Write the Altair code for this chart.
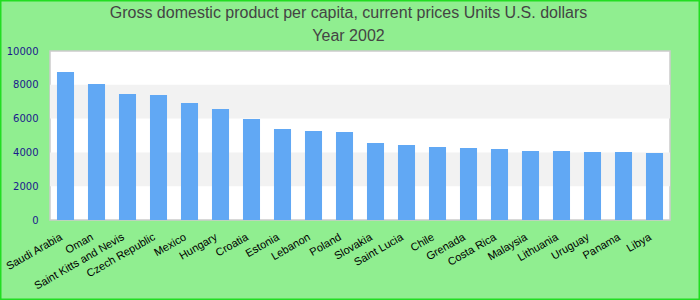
import altair as alt
import pandas as pd

countries = ["Saudi Arabia", "Oman", "Saint Kitts and Nevis", "Czech Republic", "Mexico",
             "Hungary", "Croatia", "Estonia", "Lebanon", "Poland", "Slovakia", "Saint Lucia",
             "Chile", "Grenada", "Costa Rica", "Malaysia", "Lithuania", "Uruguay", "Panama", "Libya"]
gdp = [8760, 8050, 7460, 7400, 6930, 6570, 5980, 5390, 5270, 5210, 4560, 4440,
       4320, 4260, 4200, 4085, 4080, 4025, 4020, 3965]
y_ticks = [0, 2000, 4000, 6000, 8000, 10000]
band_start = [2000, 6000]
band_end = [4000, 8000]
title_lines = ["Gross domestic product per capita, current prices Units U.S. dollars", "Year 2002"]

df = pd.DataFrame({"country": countries, "gdp": gdp})
bands = pd.DataFrame({"y": band_start, "y2": band_end})

W, H = 620, 169
PL, PT, PR, PB = 50, 51, 30, 80

yscale = alt.Scale(domain=[0, 10000], nice=False)
yaxis = alt.Axis(values=y_ticks, ticks=False, domain=False, grid=False,
                 labelFont="DejaVu Sans", labelFontSize=10, labelColor="#1a1a8c",
                 labelPadding=12, format="d")

band_layer = alt.Chart(bands).mark_rect(color="#f2f2f2").encode(
    x=alt.value(0), x2=alt.value(W),
    y=alt.Y("y:Q", scale=yscale, axis=yaxis, title=None), y2="y2:Q",
)

bars = alt.Chart(df).mark_bar(color="#61a8f4").encode(
    x=alt.X("country:N", sort=countries, title=None,
            scale=alt.Scale(paddingInner=0.45, paddingOuter=0.225),
            axis=alt.Axis(labelAngle=-30, labelAlign="right", labelBaseline="middle",
                          labelPadding=16, labelOffset=-4, ticks=False, domain=False,
                          labelFont="Liberation Sans", labelFontSize=11, labelColor="#000000",
                          labelOverlap=False)),
    y=alt.Y("gdp:Q", scale=yscale, title=None, axis=yaxis),
)

frame = alt.Chart(alt.Data(values=[{}])).mark_rect(
    fill=None, stroke="#22dd22", strokeWidth=1.5
).encode(
    x=alt.value(-PL + 0.75), x2=alt.value(W + PR - 0.75),
    y=alt.value(-PT + 0.75), y2=alt.value(H + PB - 0.75),
)

title1 = alt.Chart(alt.Data(values=[{"t": title_lines[0]}])).mark_text(
    font="Liberation Sans", fontSize=16, color="#444444", align="center", baseline="middle"
).encode(text="t:N", x=alt.value(298.5), y=alt.value(13 - PT))

title2 = alt.Chart(alt.Data(values=[{"t": title_lines[1]}])).mark_text(
    font="Liberation Sans", fontSize=16, color="#444444", align="center", baseline="middle"
).encode(text="t:N", x=alt.value(298.5), y=alt.value(36 - PT))

chart = alt.layer(band_layer, bars, frame, title1, title2).properties(
    width=W, height=H,
    autosize=alt.AutoSizeParams(type="none"),
    padding={"left": PL, "top": PT, "right": PR, "bottom": PB},
    background="#90ee90",
).configure_view(
    fill="#ffffff", stroke="#cccccc", strokeWidth=1.5
)

chart.save("out.html", embed_options={"renderer": "svg", "actions": False})
